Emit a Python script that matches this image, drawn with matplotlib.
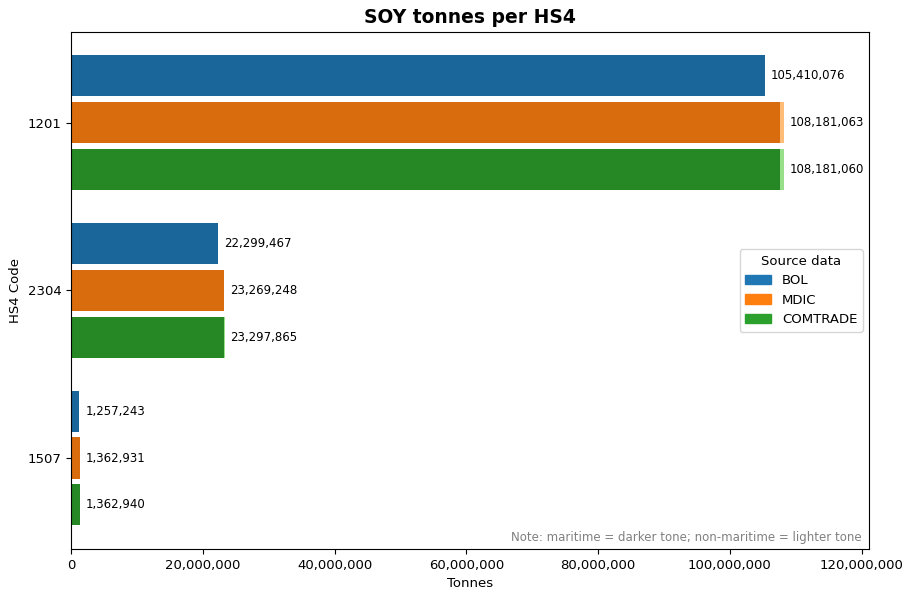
import matplotlib.pyplot as plt
import matplotlib.colors as mcolors
from matplotlib.patches import Patch
import numpy as np

hs4_codes = ['1201', '2304', '1507']
sources = ['BOL', 'MDIC', 'COMTRADE']

# totals per source, in HS4 order
totals = {
    'BOL': [105410076, 22299467, 1257243],
    'MDIC': [108181063, 23269248, 1362931],
    'COMTRADE': [108181060, 23297865, 1362940],
}
# non-maritime share (estimated from the light tone segments)
non_maritime = {
    'BOL': [0, 0, 0],
    'MDIC': [600000, 120000, 0],
    'COMTRADE': [600000, 120000, 0],
}

base_colors = {'BOL': '#1f77b4', 'MDIC': '#ff7f0e', 'COMTRADE': '#2ca02c'}
light_colors = {'BOL': '#aec7e8', 'MDIC': '#ffbb78', 'COMTRADE': '#98df8a'}


def darker(c, f=0.85):
    r, g, b = mcolors.to_rgb(c)
    return (r * f, g * f, b * f)


def main():
    fig, ax = plt.subplots(figsize=(9.13, 6.0), dpi=100)

    y = np.arange(len(hs4_codes))
    step = 0.28
    height = 0.245
    max_total = max(max(v) for v in totals.values())

    for i, src in enumerate(sources):
        tot = np.array(totals[src])
        nm = np.array(non_maritime[src])
        mar = tot - nm
        pos = y + (i - 1) * step
        ax.barh(pos, mar, height=height, color=darker(base_colors[src]))
        ax.barh(pos, nm, left=mar, height=height, color=light_colors[src])
        for p, t in zip(pos, tot):
            ax.text(t + max_total * 0.008, p, f'{t:,}', va='center',
                    ha='left', fontsize=8.5)

    ax.set_yticks(y)
    ax.set_yticklabels(hs4_codes)
    ax.invert_yaxis()
    ax.set_xlim(0, max_total * 1.12)
    ax.xaxis.set_major_formatter(plt.FuncFormatter(lambda v, p: f'{v:,.0f}'))
    ax.tick_params(labelsize=9.5)

    ax.set_title('SOY tonnes per HS4', fontsize=13.5, fontweight='bold')
    ax.set_xlabel('Tonnes', fontsize=9.5)
    ax.set_ylabel('HS4 Code', fontsize=9.5)

    handles = [Patch(color=base_colors[s], label=s) for s in sources]
    ax.legend(handles=handles, title='Source data', loc='center right',
              fontsize=9.5, title_fontsize=9.5)

    ax.text(0.99, 0.01, 'Note: maritime = darker tone; non-maritime = lighter tone',
            transform=ax.transAxes, ha='right', va='bottom', fontsize=8.5,
            color='gray')

    plt.subplots_adjust(left=0.078, right=0.952, top=0.947, bottom=0.085)
    plt.savefig('out.png')


if __name__ == '__main__':
    main()
